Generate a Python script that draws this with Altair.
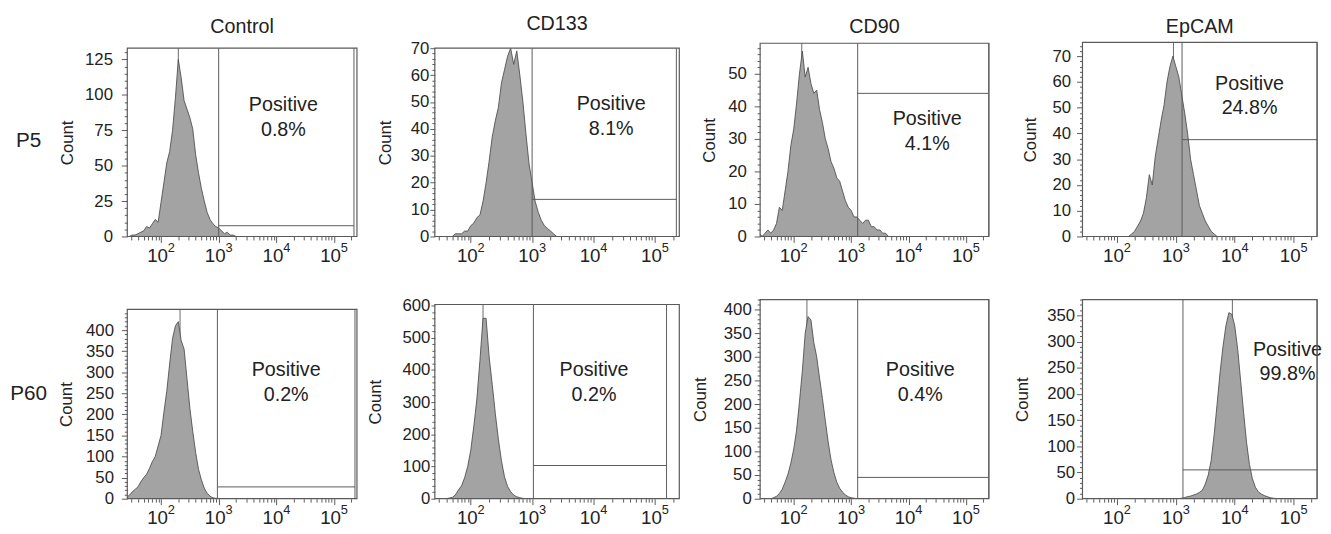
import altair as alt
import pandas as pd

FONT = "Liberation Sans"
INK = "#222222"
LINE = "#5a5a5a"

# ---------------- data ----------------
markers = ["Control", "CD133", "CD90", "EpCAM"]
passages = ["P5", "P60"]
positive_pct = {"P5": ["0.8%", "8.1%", "4.1%", "24.8%"],
                "P60": ["0.2%", "0.2%", "0.4%", "99.8%"]}

BIN_STEP = 0.05  # width of one histogram bin, in decades of fluorescence

counts_p5_control = [0, 1, 1, 2, 3, 4, 7, 6, 9, 12, 10, 24, 38, 52, 60, 75, 98, 125, 112, 96,
                     90, 84, 76, 58, 45, 34, 25, 17, 12, 9, 7, 6, 4, 2, 3, 1, 1, 0]
counts_p5_cd133 = [0, 1, 1, 1, 2, 2, 4, 5, 7, 8, 13, 20, 28, 37, 43, 48, 57, 62, 67, 70,
                   64, 69, 60, 50, 38, 27, 20, 13, 9, 6, 4, 3, 2, 1, 0]
counts_p5_cd90 = [1, 0, 1, 2, 1, 2, 4, 9, 8, 14, 20, 28, 33, 41, 50, 57, 49, 52, 47, 44,
                  45, 39, 35, 30, 27, 23, 21, 18, 17, 14, 11, 9, 8, 6, 6, 5, 4, 5, 5, 3,
                  3, 2, 2, 1, 1, 0]
counts_p5_epcam = [0, 1, 2, 4, 6, 9, 15, 24, 20, 31, 38, 45, 51, 60, 66, 70, 66, 62, 55, 48,
                   40, 30, 24, 18, 12, 9, 6, 4, 2, 1, 0]
counts_p60_control = [3, 8, 16, 22, 28, 40, 50, 58, 72, 88, 100, 125, 150, 205, 255, 320, 380, 410,
                      420, 375, 355, 285, 215, 160, 110, 70, 45, 25, 13, 6, 2, 1, 0]
counts_p60_cd133 = [0, 2, 4, 12, 27, 40, 65, 100, 150, 225, 310, 430, 560, 560, 440, 355, 265,
                    185, 118, 68, 38, 22, 11, 6, 3, 1, 0]
counts_p60_cd90 = [0, 2, 5, 11, 20, 35, 52, 75, 105, 145, 205, 270, 350, 385, 378, 330, 300, 255,
                   212, 165, 120, 82, 55, 35, 22, 14, 8, 4, 2, 1, 0]
counts_p60_epcam = [0, 1, 2, 4, 5, 7, 9, 12, 16, 28, 45, 73, 122, 180, 240, 290, 330, 355, 352,
                    330, 285, 225, 165, 108, 65, 38, 22, 13, 9, 6, 4, 2, 1, 0]

hist_counts = {"P5": [counts_p5_control, counts_p5_cd133, counts_p5_cd90, counts_p5_epcam],
               "P60": [counts_p60_control, counts_p60_cd133, counts_p60_cd90, counts_p60_epcam]}
# log10 of the first bin centre of each histogram
hist_first_bin = {"P5": [1.45, 1.70, 1.40, 2.20], "P60": [1.40, 1.60, 1.60, 3.05]}
# single-channel spikes (log10 of fluorescence) that run up to the top of the frame
peak_spike = {"P5": [2.30, None, 2.14, 2.96], "P60": [2.33, 2.20, 2.23, 3.96]}

y_top = {"P5": [133, 70, 59.4, 75.4], "P60": [449, 603, 421, 380]}
y_major = {"P5": [25, 10, 10, 10], "P60": [50, 100, 50, 50]}
y_minor = {"P5": [5, 2, 2, 2], "P60": [10, 20, 10, 10]}

gate_low = {"P5": [1000, 1000, 1300, 1275], "P60": [950, 1050, 1300, 1320]}
gate_high = {"P5": [222000, 224000, 250000, 250000], "P60": [231000, 155000, 250000, 250000]}
gate_count = {"P5": [7.6, 13.8, 44, 37.6], "P60": [28, 103, 45, 55]}

X_DOMAIN = [26, 250000]
x_ticks = [100, 1000, 10000, 100000]
x_minor = [30, 40, 50, 60, 70, 80, 90,
           200, 300, 400, 500, 600, 700, 800, 900,
           2000, 3000, 4000, 5000, 6000, 7000, 8000, 9000,
           20000, 30000, 40000, 50000, 60000, 70000, 80000, 90000, 200000]

# ---------------- layout / style ----------------
PANEL_W = [233, 248, 232, 238]
LEFT_ROOM = [120, 75, 78, 91]      # reserved space left of each plot frame
RIGHT_ROOM = 2
ROW_H = {"P5": 197, "P60": 202}
TOP_ROOM = {"P5": 0, "P60": 12}
BOTTOM_ROOM = {"P5": 34, "P60": 0}
ROW_GAP = 16
FRAME_H = {"P5": [191, 191, 196, 197], "P60": [192, 197, 202, 202]}
COUNT_TITLE_X = {"P5": [-52, -41, -42, -44], "P60": [-53, -51, -51, -52]}
LABEL_GAP = {"P5": [15, 6, 14, 12], "P60": [14, 5, 9, 8]}
TEXT_DY = {"P5": [58, 57, 77, 42], "P60": [62, 67, 72, 51]}   # first text line centre
TEXT_DX = {"P5": [-3, 7, 4, 0], "P60": [0, -6, -3, 38]}
ROW_LABEL_DY = {"P5": 94, "P60": 86}


def panel(p, j):
    H = ROW_H[p]
    W = PANEL_W[j]
    fh = FRAME_H[p][j]
    top = y_top[p][j]
    dom_top = top * H / fh
    xs = alt.Scale(type="log", domain=X_DOMAIN, nice=False)
    ys = alt.Scale(type="linear", domain=[0, dom_top], nice=False, zero=True)

    counts = hist_counts[p][j]
    first = hist_first_bin[p][j]
    hist = pd.DataFrame({"fl": [10 ** (first + i * BIN_STEP) for i in range(len(counts))],
                         "count": counts})

    gap = LABEL_GAP[p][j]
    tick = min(6, gap - 1)
    major_vals = list(range(0, int(top) + 1, y_major[p][j]))
    minor_vals = [v for v in range(0, int(top) + 1, y_minor[p][j]) if v % y_major[p][j]]

    ax_x_main = alt.Axis(orient="bottom", values=x_ticks, labelExpr="'10'", title=None,
                         grid=False, domain=False, tickSize=6, tickColor=LINE,
                         labelFont=FONT, labelFontSize=19, labelColor=INK, labelPadding=4,
                         labelOffset=-4, labelFlush=False, labelOverlap=False)
    ax_x_exp = alt.Axis(orient="bottom", values=x_ticks,
                        labelExpr="'' + round(log(datum.value) / LN10)", title=None,
                        grid=False, domain=False, tickSize=0, tickOpacity=0,
                        labelFont=FONT, labelFontSize=13, labelColor=INK, labelPadding=5,
                        labelOffset=10, labelFlush=False, labelOverlap=False)
    ax_x_minor = alt.Axis(orient="bottom", values=x_minor, labels=False, title=None,
                          grid=False, domain=False, tickSize=3.5, tickColor=LINE)
    ax_y_main = alt.Axis(orient="left", values=major_vals, title="Count", grid=False,
                         domain=False, tickSize=tick, tickColor=LINE, labelFont=FONT,
                         labelFontSize=17, labelColor=INK, labelPadding=gap - tick,
                         labelFlush=False, labelOverlap=False,
                         titleFont=FONT, titleFontSize=17, titleFontWeight="normal",
                         titleColor=INK, titleX=COUNT_TITLE_X[p][j], titleY=H - fh / 2)
    ax_y_minor = alt.Axis(orient="left", values=minor_vals, labels=False, title=None,
                          grid=False, domain=False, tickSize=3, tickColor=LINE)

    layers = []
    # invisible guide that reserves the room around the plot frame
    room = pd.DataFrame({"k": [0]})
    layers.append(alt.Chart(room).mark_rule(opacity=0).encode(
        x=alt.value(-LEFT_ROOM[j]), x2=alt.value(W + RIGHT_ROOM),
        y=alt.value(-TOP_ROOM[p]), y2=alt.value(H + BOTTOM_ROOM[p])))

    spike = peak_spike[p][j]
    if spike is not None:
        sp = pd.DataFrame({"fl": [10 ** spike], "y0": [0], "y1": [top]})
        layers.append(alt.Chart(sp).mark_rule(color="#6a6a6a", strokeWidth=1).encode(
            x=alt.X("fl:Q", scale=xs, axis=None),
            y=alt.Y("y0:Q", scale=ys, axis=None), y2="y1:Q"))

    layers.append(alt.Chart(hist).mark_area(fill="#a3a3a3", stroke="#505050", strokeWidth=0.9,
                                            clip=True).encode(
        x=alt.X("fl:Q", scale=xs, axis=ax_x_main),
        y=alt.Y("count:Q", scale=ys, axis=ax_y_main)))

    lo, hi, gy = gate_low[p][j], gate_high[p][j], gate_count[p][j]
    gv = pd.DataFrame({"fl": [lo, hi], "y0": [0, 0], "y1": [top, top]})
    layers.append(alt.Chart(gv).mark_rule(color=LINE, strokeWidth=1).encode(
        x=alt.X("fl:Q", scale=xs, axis=ax_x_minor),
        y=alt.Y("y0:Q", scale=ys, axis=None), y2="y1:Q"))
    gh = pd.DataFrame({"lo": [lo], "hi": [hi], "c": [gy]})
    layers.append(alt.Chart(gh).mark_rule(color=LINE, strokeWidth=1).encode(
        x=alt.X("lo:Q", scale=xs, axis=ax_x_exp), x2="hi:Q",
        y=alt.Y("c:Q", scale=ys, axis=ax_y_minor)))

    tx = pd.DataFrame({"fl": [(lo * hi) ** 0.5],
                       "label": ["Positive\n" + positive_pct[p][j]]})
    layers.append(alt.Chart(tx).mark_text(font=FONT, fontSize=20, color=INK, lineBreak="\n",
                                          lineHeight=25, align="center", baseline="middle",
                                          dx=TEXT_DX[p][j]).encode(
        x=alt.X("fl:Q", scale=xs, axis=None),
        y=alt.value(H - fh + TEXT_DY[p][j]), text="label:N"))

    fr = pd.DataFrame({"x0": [X_DOMAIN[0]], "x1": [X_DOMAIN[1]], "y0": [0], "y1": [top]})
    layers.append(alt.Chart(fr).mark_rect(fillOpacity=0, stroke=LINE, strokeWidth=1.2).encode(
        x=alt.X("x0:Q", scale=xs, axis=None), x2="x1:Q",
        y=alt.Y("y0:Q", scale=ys, axis=None), y2="y1:Q"))

    if j == 0:
        rl = pd.DataFrame({"t": [p]})
        layers.append(alt.Chart(rl).mark_text(font=FONT, fontSize=21, color=INK).encode(
            x=alt.value(-100), y=alt.value(H - fh + ROW_LABEL_DY[p]), text="t:N"))

    ch = alt.layer(*layers).resolve_axis(x="independent", y="independent").properties(
        width=W, height=H)
    if p == "P5":
        ch = ch.properties(title=alt.TitleParams(markers[j], font=FONT, fontSize=20,
                                                 fontWeight="normal", color=INK, offset=5,
                                                 anchor="middle", frame="group"))
    return ch


def row(p):
    return alt.hconcat(*[panel(p, j) for j in range(4)], spacing=0)


chart = alt.vconcat(row("P5"), row("P60"), spacing=ROW_GAP).properties(
    padding={"left": 0, "top": 2, "right": 0, "bottom": 0}, background="white"
).configure_view(stroke="transparent")

chart.save("out.html", embed_options={"renderer": "svg", "actions": False})
